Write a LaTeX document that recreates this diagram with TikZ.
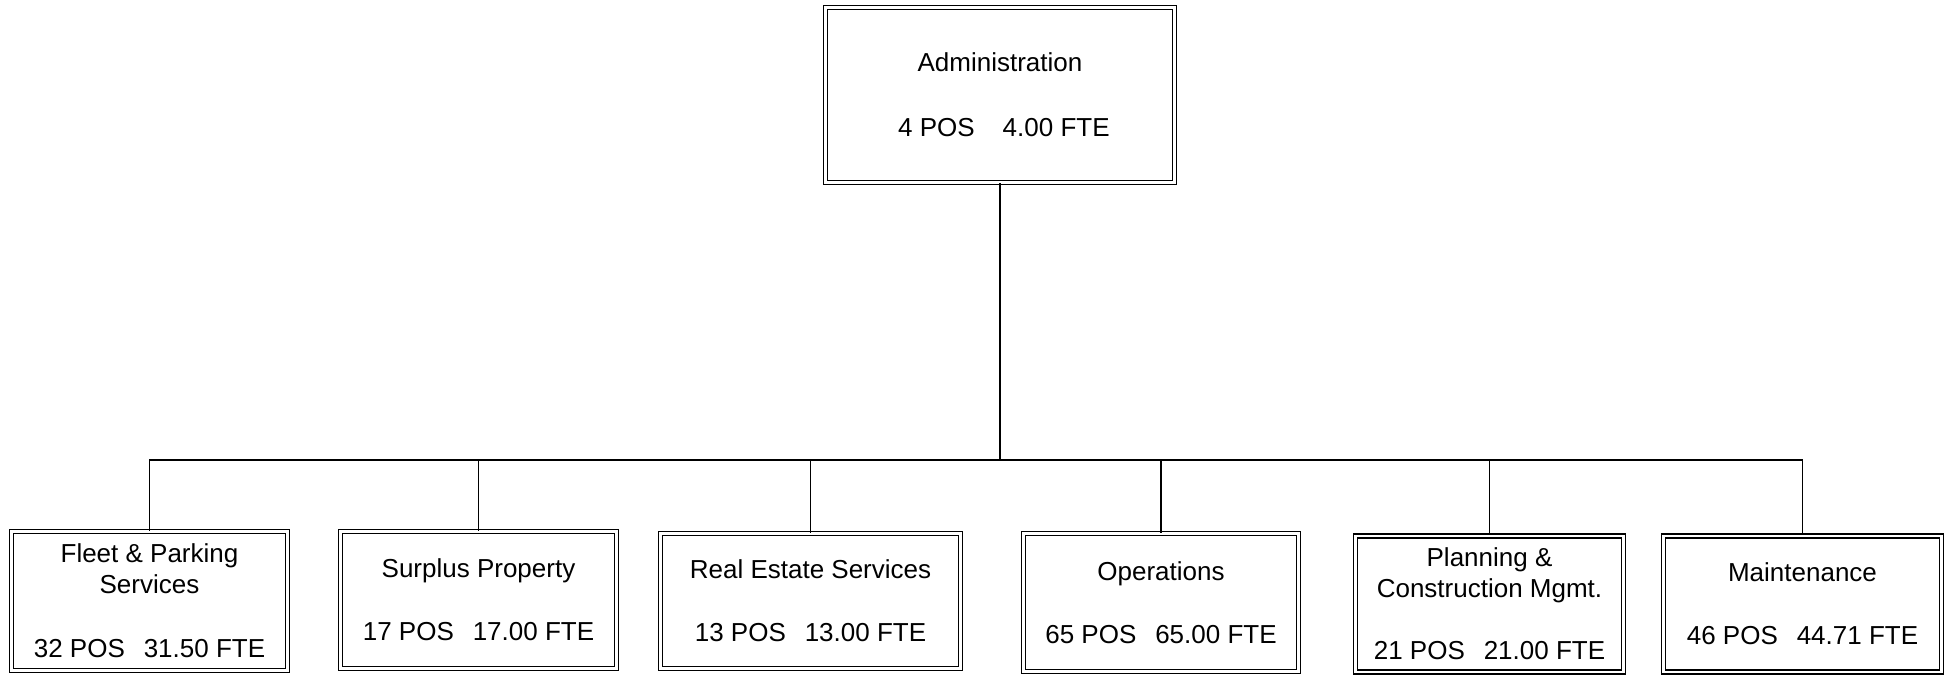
\documentclass[tikz,border=0pt]{standalone}
\usepackage{fontspec}
\setmainfont{Liberation Sans}
\begin{document}
\begin{tikzpicture}[x=1pt,y=-1pt,
  orgbox/.style={draw=black, double=white, double distance=2.6pt, line width=1.3pt,
    align=center, inner sep=0pt, font=\fontsize{26}{31}\selectfont},
  conn/.style={draw=black, line width=1.3pt}]
\useasboundingbox (0,0) rectangle (1946,676);
\node[orgbox, minimum width=349pt, minimum height=175pt] (admin) at (1000,95)
  {Administration\\[34pt]\hspace{0.3em}4 POS\hspace{0.8em} 4.00 FTE};
\node[orgbox, minimum width=276pt, minimum height=139pt] (fleet) at (149.5,601)
  {Fleet \& Parking\\Services\\[33pt]32 POS\hspace{0.45em} 31.50 FTE};
\node[orgbox, minimum width=276pt, minimum height=137pt] (surplus) at (478.5,600)
  {Surplus Property\\[32pt]17 POS\hspace{0.45em} 17.00 FTE};
\node[orgbox, minimum width=300pt, minimum height=135pt] (realestate) at (810.5,601)
  {Real Estate Services\\[32pt]13 POS\hspace{0.45em} 13.00 FTE};
\node[orgbox, minimum width=275pt, minimum height=138pt] (ops) at (1161,602.5)
  {Operations\\[32pt]65 POS\hspace{0.45em} 65.00 FTE};
\node[orgbox, minimum width=268pt, minimum height=136pt] (planning) at (1489.5,604)
  {Planning \&\\Construction Mgmt.\\[31pt]21 POS\hspace{0.45em} 21.00 FTE};
\node[orgbox, minimum width=278pt, minimum height=136pt] (maint) at (1802.5,604)
  {Maintenance\\[32pt]46 POS\hspace{0.45em} 44.71 FTE};
\coordinate (bus) at (1000,460);
\draw[conn] (admin.south) -- (bus);
\foreach \c in {fleet,surplus,realestate,ops,planning,maint}
  \draw[conn] (bus) -| (\c.north);
\end{tikzpicture}
\end{document}
